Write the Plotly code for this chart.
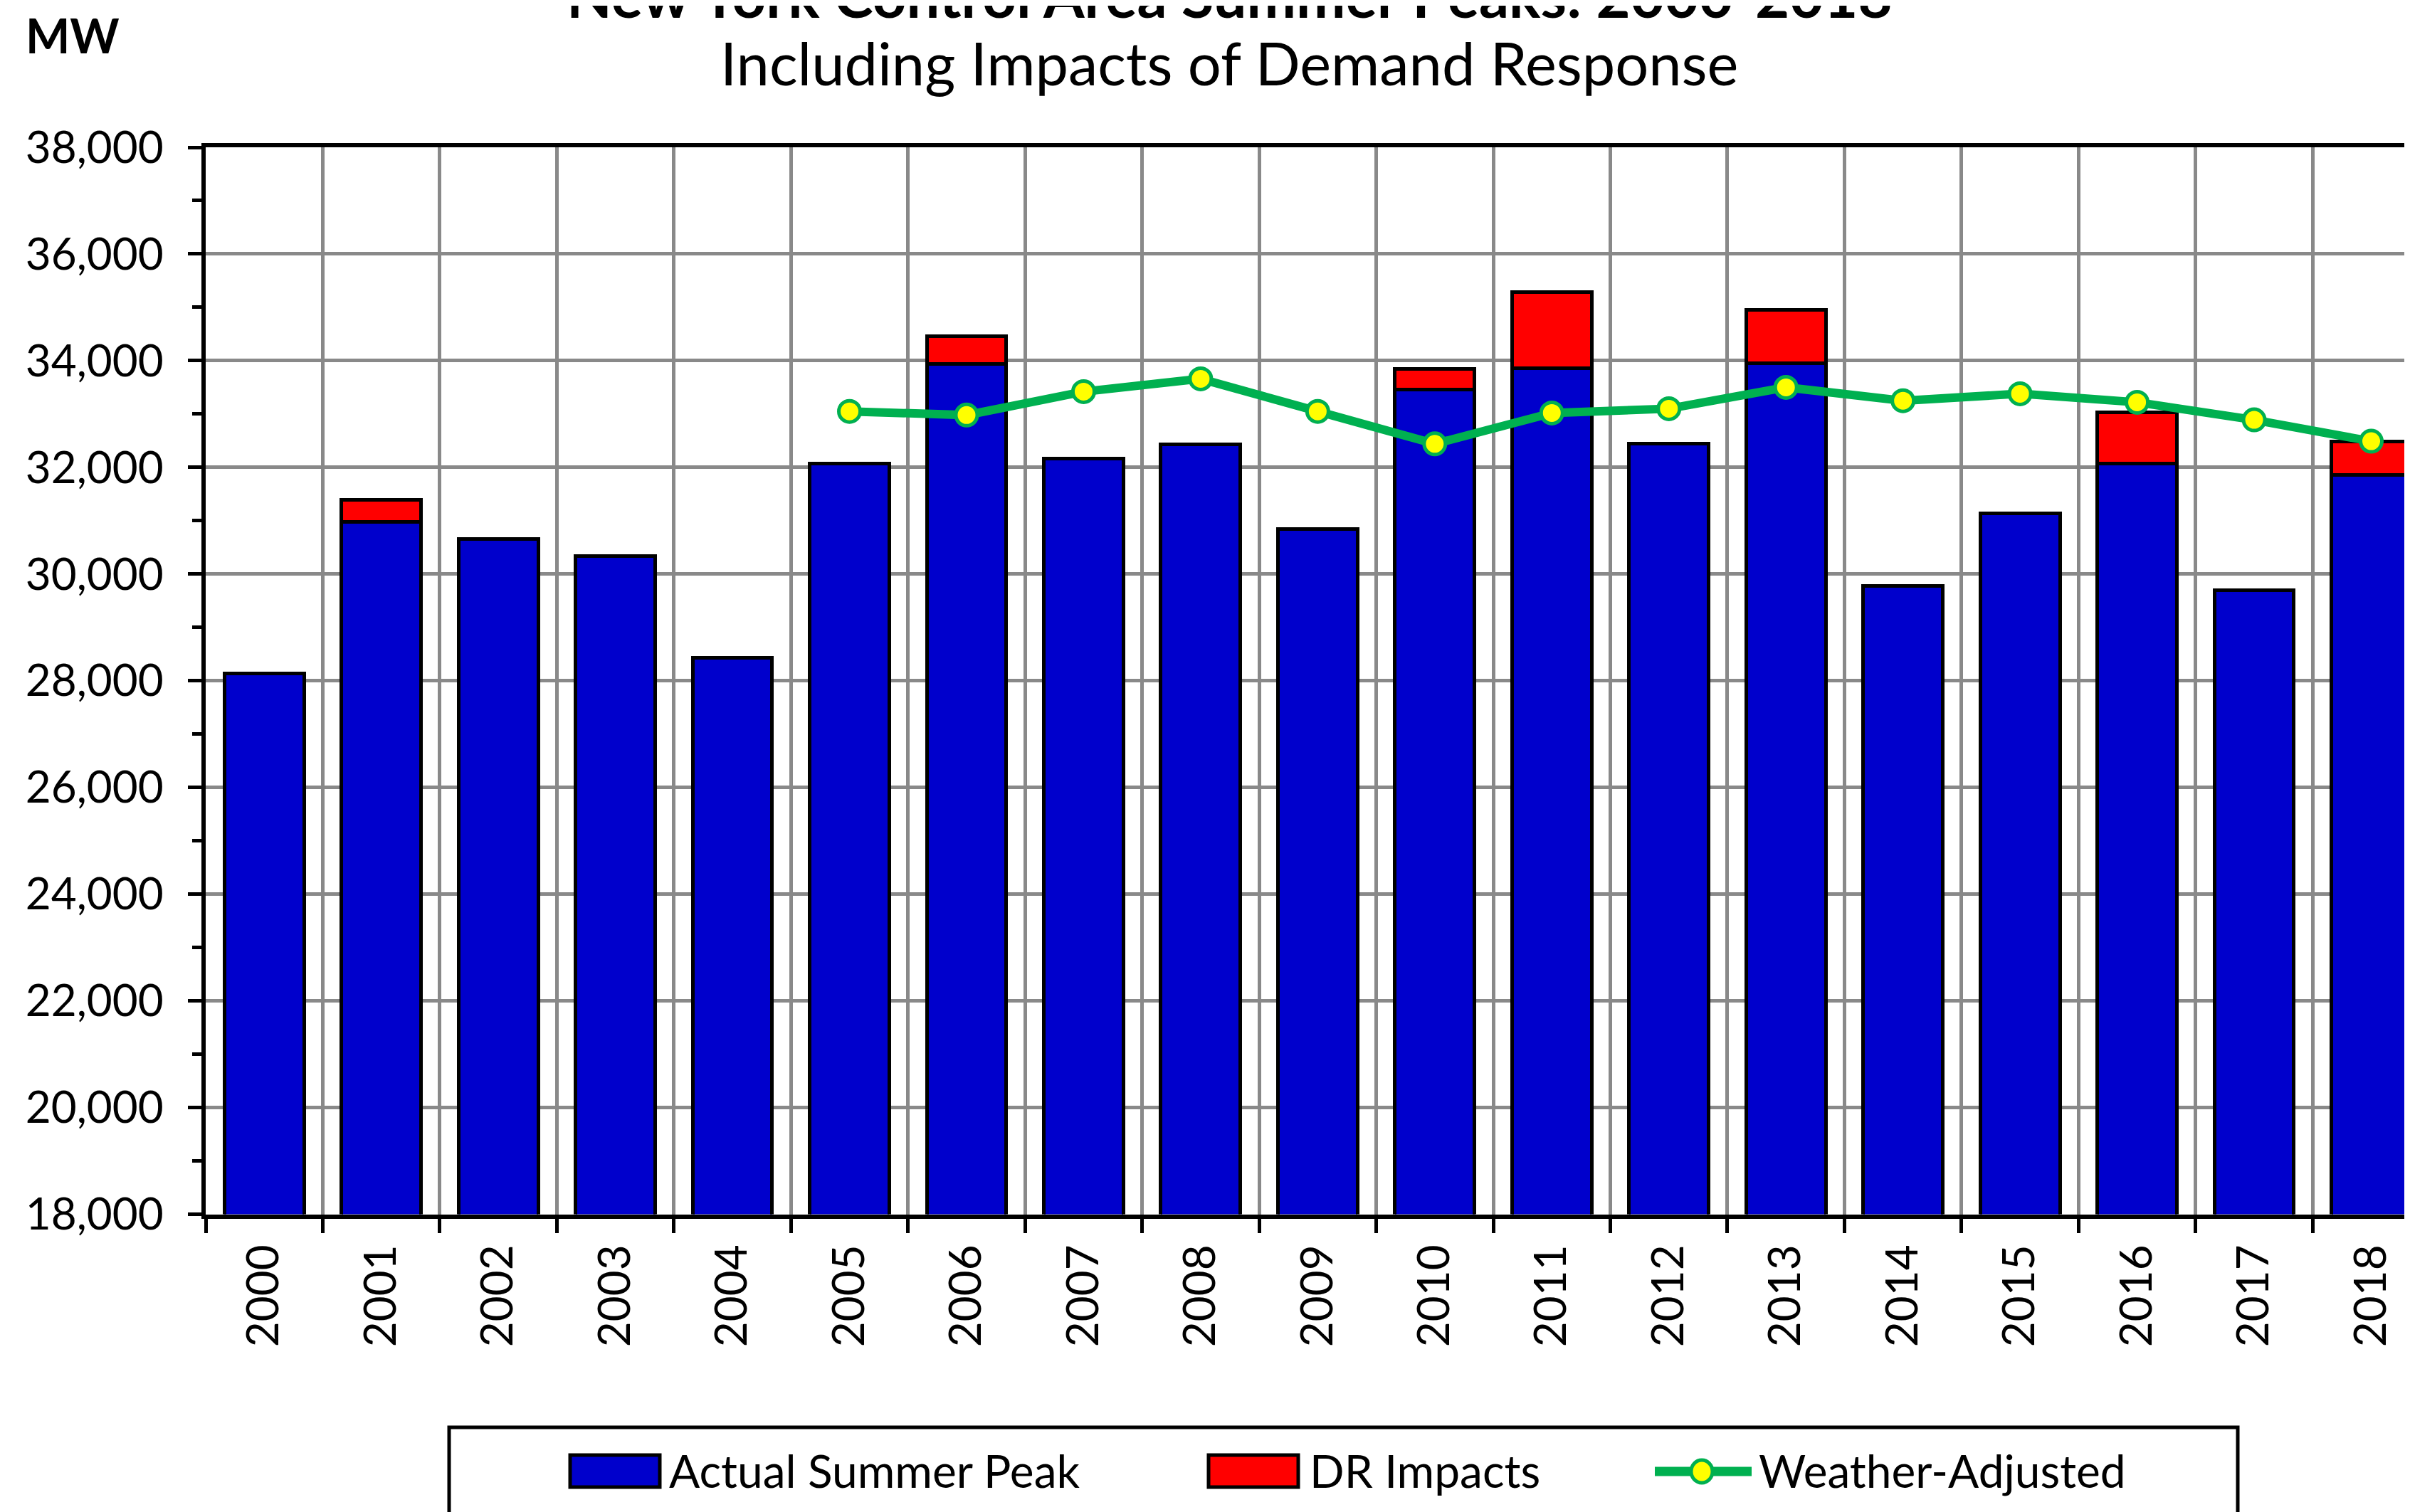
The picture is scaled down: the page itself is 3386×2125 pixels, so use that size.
import plotly.graph_objects as go

years = [str(y) for y in range(2000, 2019)]
actual_peak = [28138, 30982, 30664, 30333, 28433, 32075, 33939, 32169, 32432, 30844,
               33452, 33865, 32439, 33956, 29782, 31138, 32076, 29699, 31861]
dr_impacts = [None, 408, None, None, None, None, 520, None, None, None,
              400, 1420, None, 990, None, None, 960, None, 630]
weather_adjusted = [None, None, None, None, None, 33050, 32980, 33420, 33660, 33050,
                    32440, 33020, 33100, 33500, 33250, 33380, 33220, 32890, 32490]
y_ticks = list(range(18000, 38001, 2000))

W, H = 3386, 2125
OFF = 8  # page body margin
FONT = "Lato"
BLUE = "#0000CC"
RED = "#FF0000"
GREEN = "#00B050"
YELLOW = "#FFFF00"
GRID = "#898989"

def fx(px):
    return (px - OFF) / W

def fy(py):
    return 1 - (py - OFF) / H

fig = go.Figure()
fig.add_trace(go.Bar(x=years, y=actual_peak, name="Actual Summer Peak",
                     marker=dict(color=BLUE, line=dict(color="black", width=5)),
                     width=0.68, showlegend=False))
fig.add_trace(go.Bar(x=years, y=dr_impacts, name="DR Impacts",
                     marker=dict(color=RED, line=dict(color="black", width=5)),
                     width=0.68, showlegend=False))
fig.add_trace(go.Scatter(x=years, y=weather_adjusted, name="Weather-Adjusted",
                         mode="lines+markers",
                         line=dict(color=GREEN, width=12),
                         marker=dict(color=YELLOW, size=30, line=dict(color=GREEN, width=5)),
                         showlegend=False, cliponaxis=False))

fig.update_layout(
    width=W, height=H,
    margin=dict(l=0, r=0, t=0, b=0),
    paper_bgcolor="white", plot_bgcolor="white",
    barmode="stack",
    font=dict(family=FONT, color="black"),
    xaxis=dict(domain=[fx(289), 1.0], type="category", range=[-0.5, 18.38],
               tickson="boundaries", showgrid=True, gridcolor=GRID, gridwidth=5,
               ticks="outside", ticklen=20, tickwidth=5, tickcolor="black",
               showline=True, linecolor="black", linewidth=6, mirror=True,
               tickangle=-90, ticklabelstandoff=12,
               tickfont=dict(family=FONT, size=62, color="black"),
               automargin=False),
    yaxis=dict(domain=[fy(1706.5), fy(207)], range=[18000, 38000],
               tickvals=y_ticks, tickformat=",", showgrid=True, gridcolor=GRID, gridwidth=5,
               ticks="outside", ticklen=19, tickwidth=5, tickcolor="black",
               minor=dict(dtick=1000, ticks="outside", ticklen=13, tickwidth=5,
                          tickcolor="black", showgrid=False),
               showline=True, linecolor="black", linewidth=6, zeroline=False,
               ticklabelstandoff=22,
               tickfont=dict(family=FONT, size=62, color="black"),
               automargin=False),
)

# Titles
fig.add_annotation(text="<b>New York Control Area Summer Peaks: 2000-2018</b>",
                   xref="paper", yref="paper", x=fx(1727), y=fy(45),
                   xanchor="center", yanchor="bottom", showarrow=False,
                   font=dict(family=FONT, size=83, color="black"))
fig.add_annotation(text="Including Impacts of Demand Response",
                   xref="paper", yref="paper", x=fx(1727), y=fy(140),
                   xanchor="center", yanchor="bottom", showarrow=False,
                   font=dict(family=FONT, size=83, color="black"))
fig.add_annotation(text="<b>MW</b>",
                   xref="paper", yref="paper", x=fx(102), y=fy(91),
                   xanchor="center", yanchor="bottom", showarrow=False,
                   font=dict(family=FONT, size=66, color="black"))

# Legend (frame + entries)
shapes = [
    dict(type="rect", xref="paper", yref="paper", x0=fx(631), x1=fx(3144),
         y0=fy(2220), y1=fy(2006), line=dict(color="black", width=5), fillcolor="white",
         layer="below"),
    dict(type="rect", xref="paper", yref="paper", x0=fx(801), x1=fx(927),
         y0=fy(2090), y1=fy(2045), line=dict(color="black", width=5), fillcolor=BLUE),
    dict(type="rect", xref="paper", yref="paper", x0=fx(1698), x1=fx(1824),
         y0=fy(2090), y1=fy(2045), line=dict(color="black", width=5), fillcolor=RED),
    dict(type="line", xref="paper", yref="paper", x0=fx(2325), x1=fx(2461),
         y0=fy(2068), y1=fy(2068), line=dict(color=GREEN, width=13)),
    dict(type="circle", xref="paper", yref="paper", x0=fx(2376), x1=fx(2406),
         y0=fy(2084), y1=fy(2052), line=dict(color=GREEN, width=5), fillcolor=YELLOW),
]
fig.update_layout(shapes=shapes)
for txt, x in [("Actual Summer Peak", 938), ("DR Impacts", 1838), ("Weather-Adjusted", 2469)]:
    fig.add_annotation(text=txt, xref="paper", yref="paper", x=fx(x), y=fy(2066),
                       xanchor="left", yanchor="middle", showarrow=False,
                       font=dict(family=FONT, size=64, color="black"))

fig.write_html("out.html")
